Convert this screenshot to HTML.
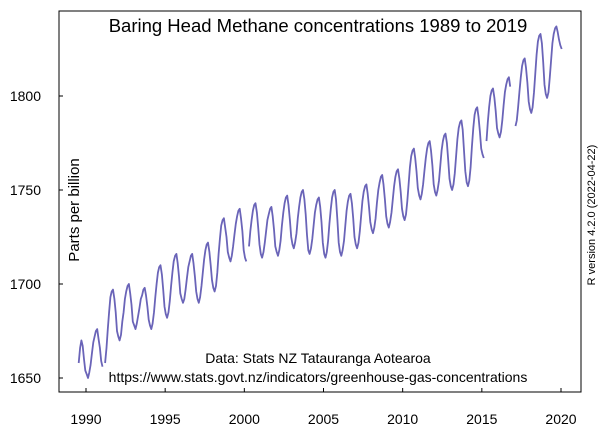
<!DOCTYPE html>
<html><head><meta charset="utf-8"><style>
html,body{margin:0;padding:0;background:#fff;}
svg{display:block;font-family:"Liberation Sans",sans-serif;}
</style></head><body>
<svg id="chart" width="600" height="430" viewBox="0 0 600 430">
<rect x="0" y="0" width="600" height="430" fill="#fff"/>
<text x="318" y="32" font-size="18.5" text-anchor="middle" fill="#000">Baring Head Methane concentrations 1989 to 2019</text>
<text transform="translate(79,210) rotate(-90)" font-size="15" text-anchor="middle">Parts per billion</text>
<text transform="translate(595,215) rotate(-90)" font-size="11" text-anchor="middle">R version 4.2.0 (2022-04-22)</text>
<g id="axes"></g>
<path id="series" fill="none" stroke="#6a64b8" stroke-width="1.8" stroke-linejoin="round"/>
<text x="318" y="363" font-size="14" text-anchor="middle">Data: Stats NZ Tatauranga Aotearoa</text>
<text x="318" y="382" font-size="14" text-anchor="middle">https://www.stats.govt.nz/indicators/greenhouse-gas-concentrations</text>
<rect x="59" y="11" width="522" height="381" fill="none" stroke="#000" stroke-width="1"/>
</svg>
<script>
const startYear = 1989, startMonth = 7;
const values = [
1658,1666,1670,1667,1660,1654,
1652,1650,1653,1657,1663,1669,1672,1675,1676,1671,1666,1659,
1656,null,1658,1666,1676,1685,1693,1696,1697,1692,1685,1675,
1672,1670,1673,1680,1685,1692,1696,1699,1700,1695,1689,1680,
1678,1676,1679,1683,1687,1692,1694,1697,1698,1694,1688,1681,
1678,1676,1679,1685,1693,1700,1706,1709,1710,1705,1697,1688,
1684,1682,1685,1691,1699,1706,1712,1715,1716,1711,1704,1695,
1692,1690,1692,1697,1703,1709,1712,1715,1716,1711,1704,1696,
1692,1690,1693,1699,1706,1713,1718,1721,1722,1717,1710,1702,
1698,1696,1699,1706,1716,1724,1731,1734,1735,1730,1725,1717,
1714,1712,1715,1720,1726,1732,1736,1739,1740,1735,1728,1718,
1714,1712,null,1720,1728,1734,1739,1742,1743,1738,1730,1721,
1716,1714,1717,1722,1728,1734,1737,1740,1741,1736,1729,1720,
1717,1715,1718,1723,1731,1738,1743,1746,1747,1742,1734,1725,
1721,1719,1722,1727,1735,1741,1746,1749,1750,1745,1737,1726,
1718,1716,1719,1724,1731,1738,1742,1745,1746,1741,1733,1722,
1716,1714,1717,1723,1732,1740,1746,1749,1750,1745,1734,1722,
1717,1715,1718,1723,1731,1739,1744,1747,1748,1743,1735,1725,
1721,1719,1722,1728,1736,1744,1749,1752,1753,1748,1741,1733,
1729,1727,1730,1735,1743,1750,1754,1757,1758,1753,1745,1736,
1732,1730,1733,1738,1745,1752,1757,1760,1761,1756,1749,1740,
1736,1734,1737,1744,1753,1762,1768,1771,1772,1767,1760,1751,
1747,1745,1748,1753,1760,1767,1772,1775,1776,1771,1763,1753,
1749,1747,1750,1755,1763,1771,1776,1779,1780,1775,1766,1756,
1752,1750,1753,1759,1768,1777,1783,1786,1787,1782,1771,1760,
1754,1752,1755,1762,1773,1783,1790,1793,1794,1789,1781,1772,
1769,1767,null,1776,1786,1794,1800,1803,1804,1799,1792,1783,
1780,1778,1781,1787,1795,1802,1806,1809,1810,1805,null,null,
null,1784,1787,1794,1802,1810,1816,1819,1820,1815,1807,1797,
1793,1791,1794,1802,1812,1822,1829,1832,1833,1828,1818,1806,
1801,1799,1802,1810,1819,1828,1833,1836,1837,1834,1830,1827,
1825
];
const xTicks = [1990,1995,2000,2005,2010,2015,2020];
const yTicks = [1650,1700,1750,1800];

const xs = t => 86 + (t - 1990) * (561 - 86) / 30;
const ys = v => 96 + (1800 - v) * (378 - 96) / 150;

const NS = 'http://www.w3.org/2000/svg';
const axes = document.getElementById('axes');
xTicks.forEach(t => {
  const l = document.createElementNS(NS, 'line');
  l.setAttribute('x1', xs(t)); l.setAttribute('x2', xs(t));
  l.setAttribute('y1', 392); l.setAttribute('y2', 388);
  l.setAttribute('stroke', '#000');
  
  
  axes.appendChild(l);
  const tx = document.createElementNS(NS, 'text');
  tx.setAttribute('x', xs(t)); tx.setAttribute('y', 424);
  tx.setAttribute('font-size', '14'); tx.setAttribute('text-anchor', 'middle');
  tx.textContent = t;
  
  
  axes.appendChild(tx);
});
yTicks.forEach(v => {
  const l = document.createElementNS(NS, 'line');
  l.setAttribute('x1', 59); l.setAttribute('x2', 63);
  l.setAttribute('y1', ys(v)); l.setAttribute('y2', ys(v));
  l.setAttribute('stroke', '#000');
  
  
  axes.appendChild(l);
  const tx = document.createElementNS(NS, 'text');
  tx.setAttribute('x', 41); tx.setAttribute('y', ys(v) + 5);
  tx.setAttribute('font-size', '14'); tx.setAttribute('text-anchor', 'end');
  tx.textContent = v;
  
  
  axes.appendChild(tx);
});
let d = '', pen = false;
values.forEach((v, i) => {
  if (v === null) { pen = false; return; }
  const m = startMonth - 1 + i;
  const t = startYear + (m + 0.5) / 12;
  d += (pen ? 'L' : 'M') + xs(t).toFixed(1) + ',' + ys(v).toFixed(1);
  pen = true;
});
document.getElementById('series').setAttribute('d', d);
</script>
</body></html>
